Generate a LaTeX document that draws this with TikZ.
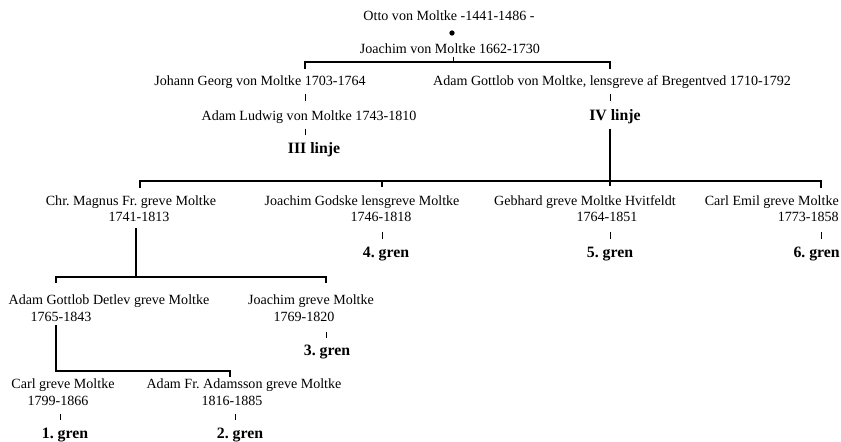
\documentclass[tikz,border=0pt]{standalone}
\usepackage{fontspec}
\setmainfont{Liberation Serif}
\usepackage{tikz}
\frenchspacing

\begin{document}
\begin{tikzpicture}[
    x=0.03cm, y=-0.03cm,
    % Text Styles
    person/.style={font=\fontsize{12}{14}\selectfont, inner sep=0pt, text height=8.5pt, text depth=2.5pt},
    years/.style={person},
    branch/.style={font=\fontsize{13.5}{15}\selectfont\bfseries, inner sep=0pt, text height=9.5pt, text depth=3pt},
    dot/.style={circle, fill=black, inner sep=0pt, minimum size=4.5pt},
    % Line Styles
    link/.style={line width=1.1pt, draw=black},
    stub/.style={line width=0.8pt, draw=black}
]
\useasboundingbox (0,0) rectangle (841,441);

% ========================================================
% TOP: Otto and Joachim
% ========================================================

\node[person] (otto) at (449,17) {Otto von Moltke -1441-1486 -};
\node[dot] (bullet) at (452,33) {};
\node[person] (joachim) at (450,50) {Joachim von Moltke 1662-1730};

\coordinate (jL) at (305,62);
\coordinate (jT) at (453,62);
\coordinate (jR) at (610,62);
\draw[stub] (joachim.south -| jT) -- (jT);
\draw[link] (jL) ++(0,7) |- (jR) -- ++(0,7);

% ========================================================
% III linje and IV linje
% ========================================================

\node[person] (johann) at (260,82) {Johann Georg von Moltke 1703-1764};
\node[person] (gottlob) at (612,82) {Adam Gottlob von Moltke, lensgreve af Bregentved 1710-1792};
\draw[stub] (johann.south -| jL) ++(0,5) -- ++(0,7);
\draw[stub] (gottlob.south -| jR) ++(0,5) -- ++(0,7);

\node[person] (ludwig) at (309,117) {Adam Ludwig von Moltke 1743-1810};
\node[branch] (linjeIV) at (615,117) {IV linje};
\draw[stub] (ludwig.south -| jL) ++(0,5) -- ++(0,6);
\node[branch] (linjeIII) at (314,150) {III linje};

% Main line under IV linje
\coordinate (mL) at (140,181);
\coordinate (mG) at (382,181);
\coordinate (mC) at (610,181);
\coordinate (mR) at (821,181);
\draw[link] (linjeIV.south -| mC) ++(0,4) -- (mC) -- ++(0,5);
\draw[link] (mL) ++(0,7) |- (mR) -- ++(0,7);
\draw[link] (mG) -- ++(0,6);

% ========================================================
% SONS: 4., 5. and 6. gren
% ========================================================

\node[person] (magnus) at (131,202) {Chr. Magnus Fr. greve Moltke};
\node[years] (magnusY) at (139,218) {1741-1813};

\node[person] (godske) at (362,202) {Joachim Godske lensgreve Moltke};
\node[years] (godskeY) at (381,218) {1746-1818};
\draw[stub] (godskeY.south -| mG) ++(0,7) -- ++(0,7);
\node[branch] (gren4) at (386,254) {4. gren};

\node[person] (gebhard) at (585,202) {Gebhard greve Moltke Hvitfeldt};
\node[years] (gebhardY) at (607,218) {1764-1851};
\draw[stub] (gebhardY.south -| mC) ++(0,7) -- ++(0,7);
\node[branch] (gren5) at (610,254) {5. gren};

\node[person, anchor=east] (emil) at (839,202) {Carl Emil greve Moltke};
\node[years, anchor=east] (emilY) at (839,218) {1773-1858};
\draw[stub] (emilY.south -| mR) ++(0,7) -- ++(0,7);
\node[branch, anchor=east] (gren6) at (840,254) {6. gren};

% Bracket under Chr. Magnus
\coordinate (cL) at (56,277);
\coordinate (cT) at (136,277);
\coordinate (cR) at (326,277);
\draw[link] (magnusY.south -| cT) ++(0,3) -- (cT);
\draw[link] (cL) ++(0,6) |- (cR) -- ++(0,6);

% ========================================================
% GRANDSONS: 3. gren
% ========================================================

\node[person] (detlev) at (109,301) {Adam Gottlob Detlev greve Moltke};
\node[years] (detlevY) at (61,318) {1765-1843};

\node[person] (joachimG) at (311,301) {Joachim greve Moltke};
\node[years] (joachimGY) at (304,318) {1769-1820};
\draw[stub] (joachimGY.south -| cR) ++(0,7) -- ++(0,6);
\node[branch] (gren3) at (327,352) {3. gren};

% Bracket under Adam Gottlob Detlev
\coordinate (dL) at (56,371);
\coordinate (dR) at (230,371);
\draw[link] (detlevY.south -| dL) -- (dL) -- (dR) -- ++(0,6);

% ========================================================
% GREAT-GRANDSONS: 1. and 2. gren
% ========================================================

\node[person] (carl) at (63,385) {Carl greve Moltke};
\node[years] (carlY) at (58,402) {1799-1866};
\draw[stub] (carlY.south) ++(2,5) -- ++(0,6);
\node[branch] (gren1) at (65,435) {1. gren};

\node[person] (adamFr) at (244,385) {Adam Fr. Adamsson greve Moltke};
\node[years] (adamFrY) at (232,402) {1816-1885};
\draw[stub] (adamFrY.south) ++(3,5) -- ++(0,6);
\node[branch] (gren2) at (240,435) {2. gren};

\end{tikzpicture}
\end{document}
